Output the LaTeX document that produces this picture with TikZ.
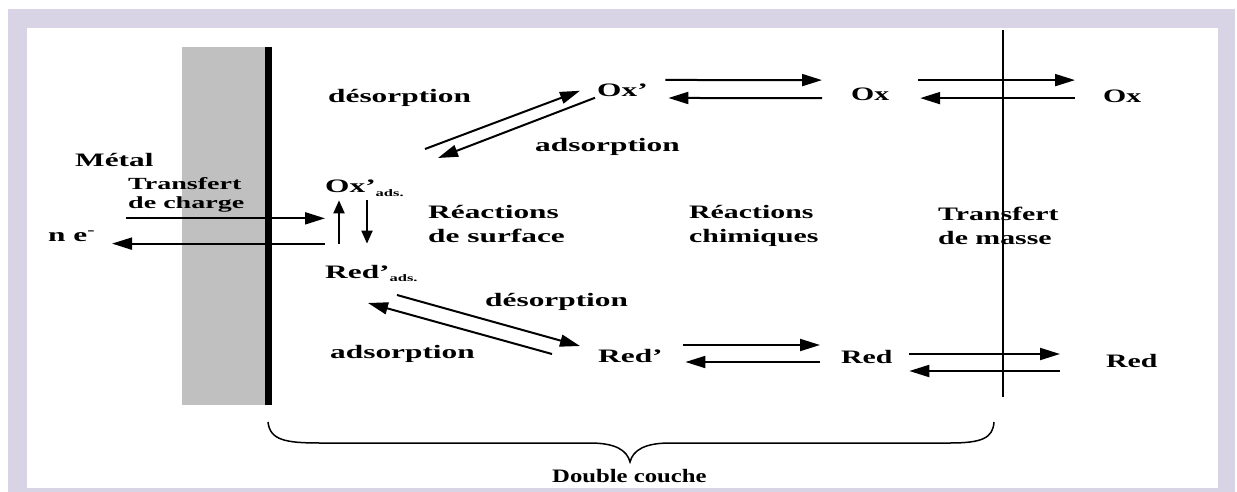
\documentclass[tikz,border=0pt]{standalone}
\usepackage{fontspec}
\setmainfont{Liberation Serif}[FakeStretch=1.65]
\newfontfamily\sbfont{Liberation Serif}[FakeStretch=1.57]
\newfontfamily\dcfont{Liberation Serif}[FakeStretch=1.30]
\usetikzlibrary{arrows.meta}
\definecolor{framecol}{RGB}{216,212,230}
\definecolor{metalgray}{RGB}{192,192,192}
\tikzset{
  lbl/.style={inner sep=0pt,anchor=base west,font=\bfseries\fontsize{19}{24}\selectfont},
  lblr/.style={lbl,font=\sbfont\bfseries\fontsize{19}{24}\selectfont},
  fwd/.style={line width=2pt,-{Triangle[length=20pt,width=12pt]}},
  vfwd/.style={line width=2pt,-{Triangle[length=13pt,width=11pt]}}
}
\newcommand{\adsub}{\raisebox{-3pt}{\fontsize{10}{10}\selectfont ads.}}
\begin{document}
\begin{tikzpicture}[x=1pt,y=-1pt]
  \useasboundingbox (0,0) rectangle (1237,492);
  % frame
  \fill[framecol] (8,9) rectangle (1235,492);
  \fill[white] (27,28) rectangle (1218,488);
  % metal and interfaces
  \fill[metalgray] (182,47) rectangle (265,405);
  \draw[line width=7pt] (268,47) -- (268,405);
  \draw[line width=1.5pt] (1003,30) -- (1003,397);

  \node[lbl] (metal) at (75,167) {Métal};
  \node[lbl,anchor=north west,align=left,font=\bfseries\fontsize{17}{19}\selectfont] (tdc) at (128,177) {Transfert\\de charge};
  \node[lbl] (ne) at (48,241) {n e\textsuperscript{-}};
  \node[lbl] (oxads) at (325,193) {Ox’\adsub};
  \node[lbl] (redads) at (325,278) {Red’\adsub};
  \node[lbl] (des1) at (328,103) {désorption};
  \node[lbl] (ads1) at (535,152) {adsorption};
  \node[lbl] (oxp) at (597,97) {Ox’};
  \node[lbl,anchor=north west,align=left] (rs) at (428,205) {Réactions\\de surface};
  \node[lbl] (des2) at (485,306) {désorption};
  \node[lbl] (ads2) at (330,358) {adsorption};
  \node[lbl] (redp) at (598,362) {Red’};
  \node[lblr] (ox) at (851,101) {Ox};
  \node[lblr] (ox2) at (1103,103) {Ox};
  \node[lblr] (red) at (841,363) {Red};
  \node[lblr] (red2) at (1106,367) {Red};
  \node[lblr,anchor=north west,align=left] (rc) at (689,205) {Réactions\\chimiques};
  \node[lblr,anchor=north west,align=left] (tm) at (938,207) {Transfert\\de masse};
  \node[lblr,font=\dcfont\bfseries\fontsize{19}{24}\selectfont] (dc) at (552,482) {Double couche};

  % charge transfer
  \draw[fwd] ([xshift=-199pt,yshift=-22pt]oxads.south west) -- ([yshift=-22pt]oxads.south west);
  \draw[fwd] ([yshift=21pt]redads.north west) -- ([xshift=-213pt,yshift=21pt]redads.north west);
  \draw[vfwd] ([xshift=14pt,yshift=21pt]redads.north west) -- ([xshift=14pt,yshift=-4pt]oxads.south west);
  \draw[vfwd] ([xshift=42pt,yshift=-4pt]oxads.south west) -- ([xshift=42pt,yshift=21pt]redads.north west);

  % adsorption / desorption
  \coordinate (desA) at (425,149);
  \coordinate (adsA) at (438,158);
  \coordinate (desB) at (397,295);
  \coordinate (adsB) at (368,303);
  \draw[fwd] (desA) -- ([xshift=-17pt]oxp.west);
  \draw[fwd] ([xshift=-2pt,yshift=-7pt]oxp.west) -- (adsA);
  \draw[fwd] (desB) -- ([xshift=-18pt,yshift=9.5pt]redp.west);
  \draw[fwd] ([xshift=-46pt,yshift=1.5pt]redp.west) -- (adsB);

  % chemical reactions and mass transfer
  \draw[fwd] ([xshift=17.5pt,yshift=10.8pt]oxp.east) -- ([xshift=-29pt,yshift=14.7pt]ox.west);
  \draw[fwd] ([xshift=-29pt,yshift=-3.3pt]ox.west) -- ([xshift=20.5pt,yshift=-7.2pt]oxp.east);
  \draw[fwd] ([xshift=28.7pt,yshift=14.7pt]ox.east) -- ([xshift=-28pt,yshift=16.7pt]ox2.west);
  \draw[fwd] ([xshift=-28pt,yshift=-1.3pt]ox2.west) -- ([xshift=30.7pt,yshift=-3.3pt]ox.east);
  \draw[fwd] ([xshift=20.6pt,yshift=10.5pt]redp.east) -- ([xshift=-21pt,yshift=11.5pt]red.west);
  \draw[fwd] ([xshift=-21pt,yshift=-5.5pt]red.west) -- ([xshift=22.6pt,yshift=-6.5pt]redp.east);
  \draw[fwd] ([xshift=16.5pt,yshift=2.5pt]red.east) -- ([xshift=-46pt,yshift=6.5pt]red2.west);
  \draw[fwd] ([xshift=-46pt,yshift=-10.5pt]red2.west) -- ([xshift=16.5pt,yshift=-14.5pt]red.east);

  % double layer brace
  \draw[line width=1.5pt] (268,422) .. controls (270,440) and (285,443) .. (320,443) -- (590,443)
    .. controls (615,443) and (627,450) .. (630,462) .. controls (633,450) and (645,443) .. (670,443)
    -- (950,443) .. controls (982,443) and (993,438) .. (994,422);
\end{tikzpicture}
\end{document}
